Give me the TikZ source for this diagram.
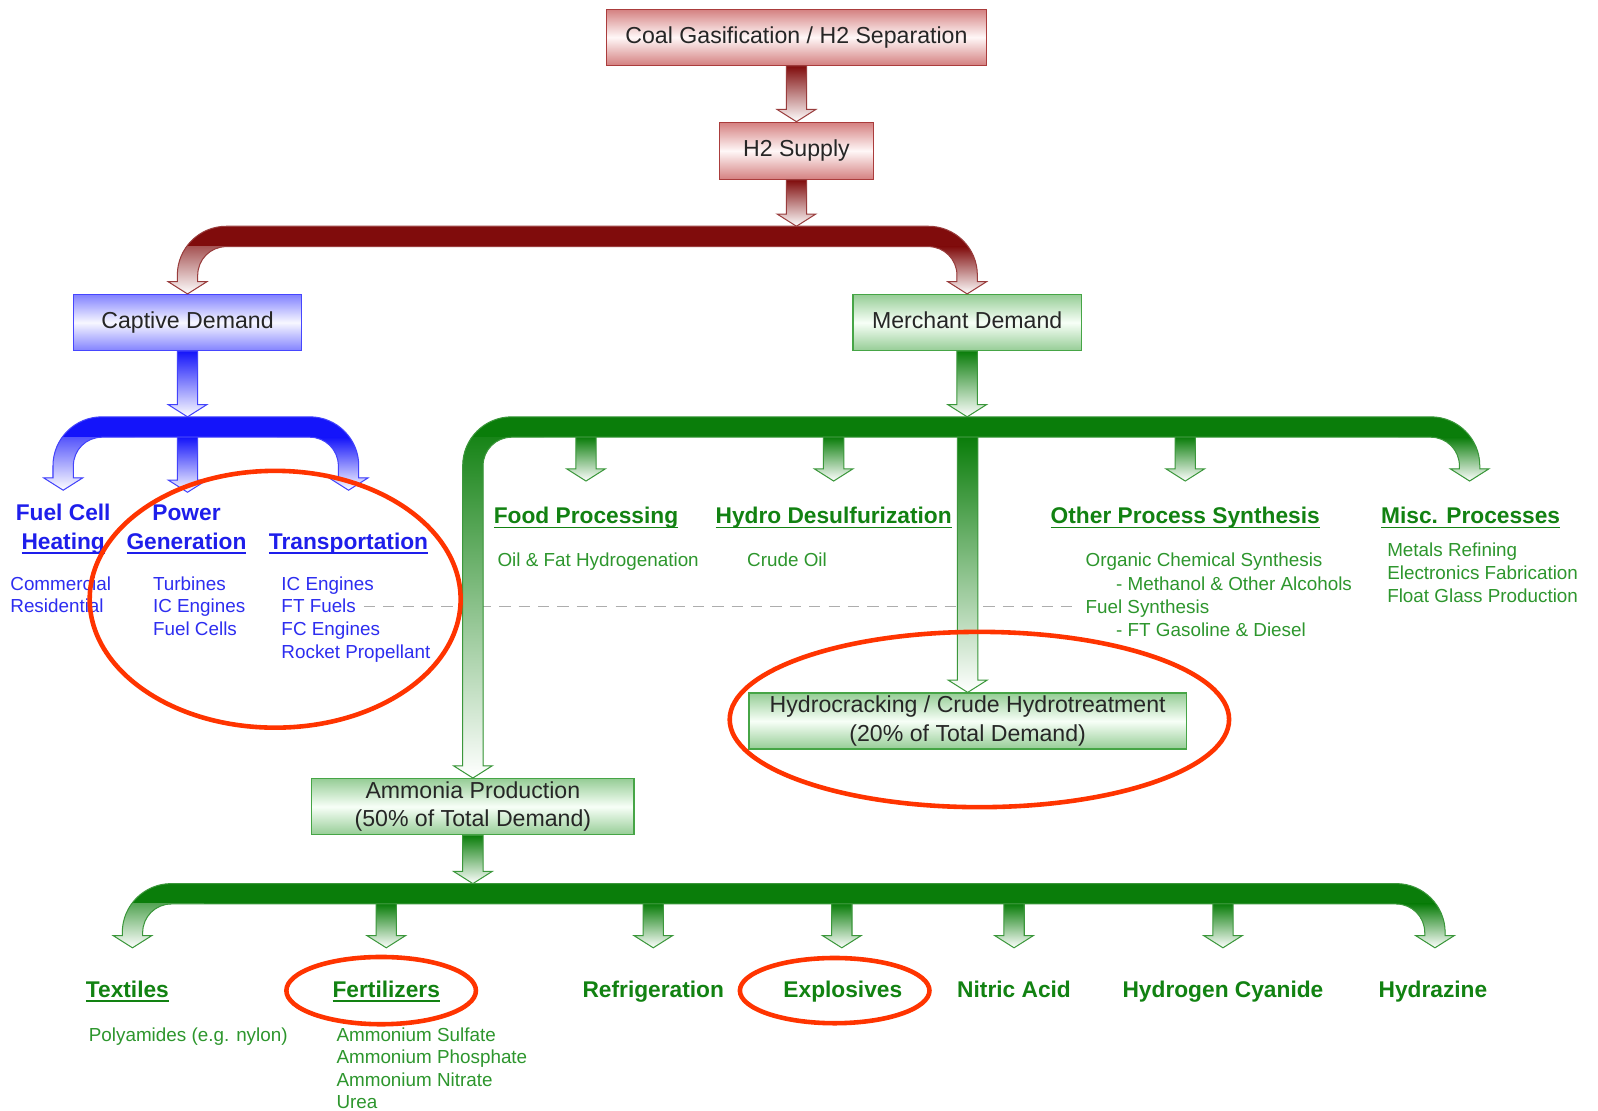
\documentclass[tikz,border=0pt]{standalone}
\usepackage{fontspec}
\setmainfont{Liberation Sans}
\usetikzlibrary{calc}
\definecolor{flowred}{RGB}{128,12,12}
\definecolor{flowblue}{RGB}{20,20,250}
\definecolor{flowgreen}{RGB}{10,125,10}
\definecolor{boxred}{RGB}{212,128,128}
\definecolor{boxredline}{RGB}{170,60,60}
\definecolor{boxblue}{RGB}{130,130,255}
\definecolor{boxblueline}{RGB}{70,70,255}
\definecolor{boxgreen}{RGB}{150,205,150}
\definecolor{boxgreenline}{RGB}{70,165,70}
\definecolor{hdrblue}{RGB}{30,30,235}
\definecolor{hdrgreen}{RGB}{18,130,18}
\definecolor{listblue}{RGB}{45,45,240}
\definecolor{listgreen}{RGB}{45,150,45}
\definecolor{markred}{RGB}{255,52,0}
\newcommand{\boxfont}{\fontsize{22.7}{28}\selectfont}
\newcommand{\hdrfont}{\fontsize{22.3}{28}\selectfont\bfseries}
\newcommand{\listfont}{\fontsize{18.5}{22.4}\selectfont}
% underline that sits just under the baseline
\newcommand{\hdrline}[1]{\leavevmode\setbox0=\hbox{#1}\rlap{\rule[-4.5pt]{\wd0}{1.8pt}}\box0}
% straight block arrow: shaft x from the tip, top y from the start
\newcommand{\droparrow}[3]{%
  \path[top color=#1,bottom color=white,draw=#1!80!white,line width=1pt]
    let \p1=(#2), \p2=(#3) in
    (\x2-10,\y1) -- (\x2+10,\y1) -- (\x2+10,\y2+12) -- (\x2+19,\y2+12)
    -- (\x2,\y2) -- (\x2-19,\y2+12) -- (\x2-10,\y2+12) -- cycle;}
% bar with two bent legs: colour, left tip, right tip, bar top
\newcommand{\blockfork}[4]{%
  \path[fill=#1,draw=#1!80!white,line width=1pt,
    path picture={
      \shade[top color=#1,bottom color=white]
        ($(#2 |- #4)+(-70,20)$) rectangle ($(#2)+(70,0)$);
      \shade[top color=#1,bottom color=white]
        ($(#3 |- #4)+(-70,20)$) rectangle ($(#3)+(70,0)$);}]
    let \p1=(#2), \p2=(#3), \p3=(#4) in
    (\x1,\y1) -- (\x1-19,\y1+12) -- (\x1-10,\y1+12) -- (\x1-10,\y3-48)
    arc[start angle=180,end angle=90,radius=48pt] -- (\x2-38,\y3)
    arc[start angle=90,end angle=0,radius=48pt] -- (\x2+10,\y2+12)
    -- (\x2+19,\y2+12) -- (\x2,\y2) -- (\x2-19,\y2+12) -- (\x2-10,\y2+12)
    -- (\x2-10,\y3-48) arc[start angle=0,end angle=90,radius=28pt]
    -- (\x1+38,\y3-20) arc[start angle=90,end angle=180,radius=28pt]
    -- (\x1+10,\y1+12) -- (\x1+19,\y1+12) -- cycle;}

\begin{document}
\begin{tikzpicture}[x=1pt,y=-1pt,
  flowbox/.style={line width=1.2pt,inner sep=0pt,font=\boxfont,
    text=black!85,align=center},
  oneline/.style={text height=16.5pt,text depth=4.8pt},
  redbox/.style={flowbox,draw=boxredline,top color=boxred,
    bottom color=boxred,middle color=red!3},
  bluebox/.style={flowbox,draw=boxblueline,top color=boxblue,
    bottom color=boxblue,middle color=blue!3},
  grnbox/.style={flowbox,draw=boxgreenline,top color=boxgreen,
    bottom color=boxgreen,middle color=green!3},
  bluhdr/.style={anchor=base,align=center,inner sep=0pt,font=\hdrfont,
    text=hdrblue},
  grnhdr/.style={anchor=base,align=center,inner sep=0pt,font=\hdrfont,
    text=hdrgreen},
  blulist/.style={anchor=base west,align=left,inner sep=0pt,
    font=\listfont,text=listblue},
  grnlist/.style={anchor=base west,align=left,inner sep=0pt,
    font=\listfont,text=listgreen},
  hilite/.style={draw=markred,line width=4.5pt}]
\fill[white] (0,0) rectangle (1568,1090);
\useasboundingbox (0,0) rectangle (1568,1090);

% link between FT fuels and fuel synthesis
\coordinate (ftEnd) at (357,595);
\coordinate (fuelSyn) at (1058,595);
\draw[black!32,line width=1.5pt,dash pattern=on 11pt off 8pt] (ftEnd) -- (fuelSyn);

% boxes
\node[redbox,oneline,minimum width=373,minimum height=55] (coal) at (781.5,36.5)
  {Coal Gasification / H2 Separation};
\node[redbox,oneline,minimum width=151,minimum height=56] (supply) at (781.5,148)
  {H2 Supply};
\node[bluebox,oneline,minimum width=224,minimum height=55] (captive) at (184,316.5)
  {Captive Demand};
\node[grnbox,oneline,minimum width=224,minimum height=55] (merchant) at (949,316.5)
  {Merchant Demand};
\node[grnbox,minimum width=429,minimum height=55] (hydro) at (949.5,707.5)
  {Hydrocracking / Crude Hydrotreatment\\(20\% of Total Demand)};
\node[grnbox,minimum width=316,minimum height=55] (ammonia) at (464,791.5)
  {Ammonia Production\\(50\% of Total Demand)};

% bars and arrow tips
\coordinate (rbar) at (781.5,222);
\coordinate (bbar) at (184,409);
\coordinate (bbarB) at (184,429);
\coordinate (gbar) at (949,409);
\coordinate (gbarB) at (949,429);
\coordinate (abar) at (464,867);
\coordinate (abarB) at (464,887);
\coordinate (tFuel) at (62,481);
\coordinate (tPower) at (184,483);
\coordinate (tTrans) at (342,481);
\coordinate (tFood) at (575,472);
\coordinate (tDesulf) at (818,472);
\coordinate (tOther) at (1163,472);
\coordinate (tMisc) at (1442,472);
\coordinate (tTex) at (130,930);
\coordinate (tFert) at (379,930);
\coordinate (tRefr) at (641,930);
\coordinate (tExpl) at (826,930);
\coordinate (tNitric) at (995,930);
\coordinate (tHcn) at (1200,930);
\coordinate (tHydz) at (1408,930);

\droparrow{flowred}{coal.south}{supply.north}
\droparrow{flowred}{supply.south}{rbar}
\blockfork{flowred}{captive.north}{merchant.north}{rbar}

\droparrow{flowblue}{captive.south}{bbar}
\blockfork{flowblue}{tFuel}{tTrans}{bbar}
\droparrow{flowblue}{bbarB}{tPower}

\droparrow{flowgreen}{merchant.south}{gbar}
\blockfork{flowgreen}{ammonia.north}{tMisc}{gbar}
\foreach \t in {tFood,tDesulf,tOther,hydro.north}
  \droparrow{flowgreen}{gbarB}{\t};

\droparrow{flowgreen}{ammonia.south}{abar}
\blockfork{flowgreen}{tTex}{tHydz}{abar}
\foreach \t in {tFert,tRefr,tExpl,tNitric,tHcn}
  \droparrow{flowgreen}{abarB}{\t};

% captive uses (base = last line)
\node[bluhdr] (heatHdr) at (62,539) {Fuel Cell\\\hdrline{Heating}};
\node[bluhdr] (powerHdr) at (183,539) {Power\\\hdrline{Generation}};
\node[bluhdr] (transHdr) at (342,539) {\hdrline{Transportation}};
\node[blulist] (heatList) at (10,601.4) {Commercial\\Residential};
\node[blulist] (powerList) at (150,623.8) {Turbines\\IC Engines\\Fuel Cells};
\node[blulist] (transList) at (276,646.2)
  {IC Engines\\FT Fuels\\FC Engines\\Rocket Propellant};

% merchant uses
\node[grnhdr] (foodHdr) at (575,514) {\hdrline{Food Processing}};
\node[grnhdr] (desulfHdr) at (818,514) {\hdrline{Hydro Desulfurization}};
\node[grnhdr] (otherHdr) at (1163,514) {\hdrline{Other Process Synthesis}};
\node[grnhdr] (miscHdr) at (1443,514) {\hdrline{Misc. Processes}};
\node[grnlist] (foodList) at (488,556) {Oil \& Fat Hydrogenation};
\node[grnlist] (desulfList) at (733,556) {Crude Oil};
\node[grnlist,font=\fontsize{18.5}{23}\selectfont] (otherList) at (1065,625)
  {Organic Chemical Synthesis\\\hspace*{30pt}- Methanol \& Other Alcohols\\
   Fuel Synthesis\\\hspace*{30pt}- FT Gasoline \& Diesel};
\node[grnlist] (miscList) at (1361,590.8)
  {Metals Refining\\Electronics Fabrication\\Float Glass Production};

% ammonia uses
\node[grnhdr] (texHdr) at (125,979) {\hdrline{Textiles}};
\node[grnhdr] (fertHdr) at (379,979) {\hdrline{Fertilizers}};
\node[grnhdr] (refrHdr) at (641,979) {Refrigeration};
\node[grnhdr] (explHdr) at (827,979) {Explosives};
\node[grnhdr] (nitricHdr) at (995,979) {Nitric Acid};
\node[grnhdr] (hcnHdr) at (1200,979) {Hydrogen Cyanide};
\node[grnhdr] (hydzHdr) at (1406,979) {Hydrazine};
\node[grnlist] (texList) at (87,1022) {Polyamides (e.g. nylon)};
\node[grnlist,font=\fontsize{18.5}{22}\selectfont] (fertList) at (330,1088)
  {Ammonium Sulfate\\Ammonium Phosphate\\Ammonium Nitrate\\Urea};

% red rings
\draw[hilite] (270,588) ellipse [x radius=182,y radius=126];
\draw[hilite] (961,706) ellipse [x radius=245,y radius=86];
\draw[hilite] (374,972) ellipse [x radius=93,y radius=33];
\draw[hilite] (819,972) ellipse [x radius=93,y radius=32];
\end{tikzpicture}
\end{document}
